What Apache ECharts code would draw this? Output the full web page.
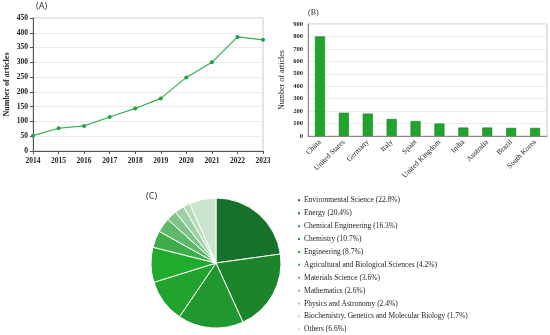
<!DOCTYPE html>
<html><head><meta charset="utf-8">
<script src="https://cdn.jsdelivr.net/npm/echarts@6/dist/echarts.min.js"></script>
<style>html,body{margin:0;padding:0;background:#fff}#c{width:550px;height:335px}</style>
</head><body><div id="c"></div>
<script>
const years = ['2014','2015','2016','2017','2018','2019','2020','2021','2022','2023'];
const articlesByYear = [52, 77, 85, 115, 144, 178, 249, 300, 386, 376];
const countries = ['China','United States','Germany','Italy','Spain','United Kingdom','India','Australia','Brazil','South Korea'];
const articlesByCountry = [800, 187, 180, 137, 120, 100, 68, 68, 65, 65];
const subjects = ['Environmental Science','Energy','Chemical Engineering','Chemistry','Engineering','Agricultural and Biological Sciences','Materials Science','Mathematics','Physics and Astronomy','Biochemistry, Genetics and Molecular Biology','Others'];
const subjectShares = [22.8, 20.4, 16.3, 10.7, 8.7, 4.2, 3.6, 2.6, 2.4, 1.7, 6.6];
const pieColors = ['#18712a','#1c852b','#21982f','#22a32e','#1fab2b','#3cae49','#5db867','#7dc486','#9dd0a3','#b7dcba','#cbe5cd'];

const chart = echarts.init(document.getElementById('c'));
const serif = 'Liberation Serif';
chart.setOption({
  animation:false,
  graphic:[
    {type:'text', left:36, top:2, style:{text:'(A)', font:'9px "Noto Sans"', fill:'#333'}},
    {type:'text', left:308, top:9, style:{text:'(B)', font:'8px '+serif, fill:'#333'}},
    {type:'text', left:146, top:192, style:{text:'(C)', font:'9px "Noto Sans"', fill:'#333'}}
  ],
  grid:[
    {left:33, right:287, top:18, bottom:184, show:true, borderColor:'#c8c8c8', borderWidth:1},
    {left:308, right:3, top:24, bottom:199, show:true, borderColor:'#c8c8c8', borderWidth:1}
  ],
  xAxis:[
    {gridIndex:0, type:'category', data:years, boundaryGap:false,
     axisLine:{lineStyle:{color:'#555'}}, axisTick:{show:true, length:3, lineStyle:{color:'#555'}},
     axisLabel:{fontFamily:serif, fontWeight:'bold', fontSize:7.5, color:'#222', margin:6}},
    {gridIndex:1, type:'category', data:countries,
     axisLine:{lineStyle:{color:'#888'}}, axisTick:{show:false},
     axisLabel:{fontFamily:serif, fontSize:7.5, color:'#222', rotate:45, interval:0, margin:5}}
  ],
  yAxis:[
    {gridIndex:0, type:'value', min:0, max:450, interval:50,
     name:'Number of articles', nameLocation:'middle', nameGap:22,
     nameTextStyle:{fontFamily:serif, fontWeight:'bold', fontSize:8, color:'#222'},
     axisLine:{show:true, lineStyle:{color:'#555'}}, axisTick:{show:true, length:3, lineStyle:{color:'#555'}},
     axisLabel:{fontFamily:serif, fontWeight:'bold', fontSize:7.5, color:'#222', margin:5},
     splitLine:{lineStyle:{color:'#ececec'}}},
    {gridIndex:1, type:'value', min:0, max:900, interval:100,
     name:'Number of articles', nameLocation:'middle', nameGap:22,
     nameTextStyle:{fontFamily:serif, fontSize:8, color:'#222'},
     axisLine:{show:true, lineStyle:{color:'#888'}}, axisTick:{show:false},
     axisLabel:{fontFamily:serif, fontWeight:'bold', fontSize:6.5, color:'#222', margin:5},
     splitLine:{lineStyle:{color:'#ececec'}}}
  ],
  legend:{
    orient:'vertical', left:296, top:196, padding:0, itemWidth:4, itemHeight:4, itemGap:4.2,
    icon:'rect', textStyle:{fontFamily:serif, fontSize:7.5, color:'#222', lineHeight:8.7, padding:[0,0,0,-2]},
    formatter:function(n){const i=subjects.indexOf(n);return n+' ('+subjectShares[i].toFixed(1)+'%)';},
    data:subjects
  },
  series:[
    {type:'line', xAxisIndex:0, yAxisIndex:0, data:articlesByYear, symbol:'circle', symbolSize:4,
     lineStyle:{color:'#35ad50', width:1.2}, itemStyle:{color:'#22a043'}},
    {type:'bar', xAxisIndex:1, yAxisIndex:1, data:articlesByCountry, barWidth:10,
     itemStyle:{color:'#1ea52a', borderColor:'#137a1c', borderWidth:0.6}},
    {type:'pie', center:[216,263], radius:[0,65], startAngle:90, label:{show:false}, labelLine:{show:false},
     itemStyle:{borderColor:'#ffffff', borderWidth:1},
     data:subjects.map((s,i)=>({name:s, value:subjectShares[i], itemStyle:{color:pieColors[i]}}))}
  ]
});
</script></body></html>
